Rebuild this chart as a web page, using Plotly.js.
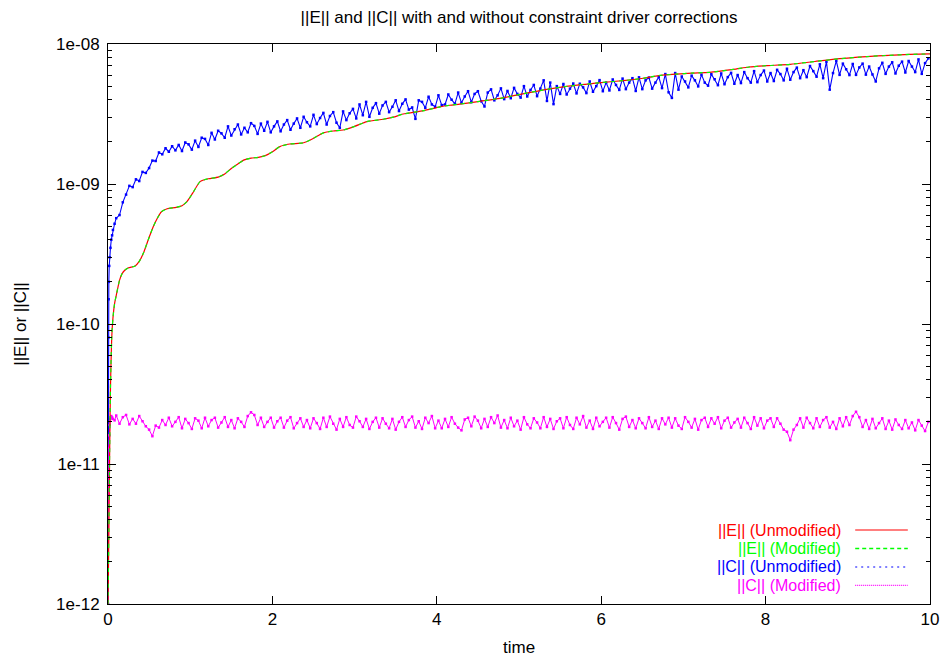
<!DOCTYPE html>
<html>
<head>
<meta charset="utf-8">
<script src="https://cdn.plot.ly/plotly-3.0.1.min.js"></script>
<style>html,body{margin:0;padding:0;background:#fff;}#chart{width:942px;height:657px;}</style>
</head>
<body>
<div id="chart"></div>
<script>
// ---- DATA ----
const seriesNames = ["||E|| (Unmodified)", "||E|| (Modified)", "||C|| (Unmodified)", "||C|| (Modified)"];

// ||E|| (identical for both runs), values in units of 1e-9
const eTime = [0, 0.01, 0.02, 0.03, 0.045, 0.06, 0.08, 0.106, 0.14, 0.17, 0.207, 0.25, 0.33, 0.38, 0.43, 0.49, 0.55, 0.60, 0.65, 0.72, 0.83, 0.90, 0.96, 1.03, 1.12, 1.22, 1.34, 1.42, 1.50, 1.58, 1.65, 1.74, 1.83, 1.92, 2.0, 2.09, 2.21, 2.38, 2.50, 2.62, 2.74, 2.86, 3.0, 3.15, 3.35, 3.47, 3.59, 3.84, 4.04, 4.16, 4.28, 4.50, 4.77, 5.0, 5.3, 5.6, 6.0, 6.3, 6.51, 6.7, 6.92, 7.1, 7.32, 7.61, 7.8, 8.01, 8.30, 8.6, 8.9, 9.23, 9.5, 9.75, 10];
const eValues = [0.001, 0.003, 0.012, 0.035, 0.079, 0.11, 0.14, 0.166, 0.205, 0.228, 0.243, 0.252, 0.26, 0.28, 0.32, 0.40, 0.495, 0.57, 0.634, 0.665, 0.68, 0.70, 0.748, 0.86, 1.04, 1.09, 1.12, 1.18, 1.29, 1.39, 1.48, 1.53, 1.55, 1.60, 1.70, 1.85, 1.93, 1.97, 2.12, 2.32, 2.39, 2.43, 2.58, 2.79, 2.90, 3.0, 3.16, 3.34, 3.56, 3.65, 3.72, 3.88, 4.09, 4.35, 4.70, 5.0, 5.3, 5.5, 5.69, 5.95, 6.1, 6.2, 6.28, 6.59, 6.85, 7.0, 7.16, 7.5, 7.85, 8.12, 8.3, 8.42, 8.5];

// Start of the ||C|| runs (time values)
const cStartTime = [0, 0.002, 0.004, 0.007, 0.01, 0.015, 0.02, 0.03, 0.04, 0.05, 0.06, 0.08];
// ||C|| unmodified start, units of 1e-9
const cUnmodStart = [0.001, 0.02, 0.08, 0.15, 0.2, 0.26, 0.3, 0.35, 0.4, 0.43, 0.47, 0.52];
// ||C|| modified start, units of 1e-11
const cModStart = [0.1, 0.3, 0.6, 1.0, 1.3, 1.6, 1.9, 2.1, 2.2, 2.15, 2.1, 2.05];

// Sampled part: from t = 0.10, every 0.04
const sampleStart = 0.10, sampleStep = 0.04;
// ||C|| unmodified, units of 1e-9
const cUnmod = [
 0.57,0.60,0.74,0.84,0.97,0.95,1.08,1.05,1.22,1.20,
 1.30,1.47,1.46,1.68,1.63,1.80,1.70,1.86,1.74,1.90,
 1.72,1.98,1.92,1.76,2.04,1.84,2.14,2.10,1.90,2.32,
 2.08,2.40,2.30,2.14,2.58,2.22,2.46,2.66,2.26,2.52,
 2.34,2.72,2.60,2.28,2.70,2.40,2.78,2.34,2.58,2.80,
 2.38,2.66,2.86,2.44,2.70,2.94,2.52,3.02,2.76,2.58,
 3.12,2.68,2.96,3.22,2.66,3.06,3.26,2.74,2.52,3.30,
 2.86,3.20,3.44,2.94,3.70,3.10,3.86,3.02,3.50,3.78,
 3.18,3.64,3.86,3.26,3.56,3.96,3.32,3.74,4.02,3.40,
 3.52,2.92,3.96,3.86,3.50,4.20,3.70,3.56,4.30,3.66,
 3.70,4.36,4.00,3.74,4.50,3.80,4.22,4.60,3.84,4.40,
 4.60,3.90,3.58,4.50,4.74,3.96,4.30,4.82,4.04,4.62,
 4.10,4.86,4.40,4.14,5.00,4.22,4.70,5.10,4.24,4.80,
 5.50,3.92,5.30,3.72,5.00,4.40,5.18,4.36,4.80,5.22,
 4.44,5.20,4.90,4.46,5.40,4.56,5.00,5.52,4.60,5.30,
 4.66,5.58,5.10,4.70,5.66,4.76,5.30,5.70,4.62,5.78,
 4.76,5.50,5.76,4.80,5.30,5.82,4.84,6.10,4.52,4.12,
 6.20,4.72,5.86,5.40,4.90,5.94,5.50,4.98,6.04,5.30,
 5.04,6.08,5.60,5.08,6.16,5.16,5.80,6.22,5.20,6.00,
 5.26,6.30,5.70,5.30,6.40,5.34,6.00,6.46,5.40,6.20,
 5.44,6.54,6.10,5.50,6.66,5.56,6.30,6.78,5.70,6.50,
 5.80,6.96,6.40,5.84,7.16,5.70,7.48,4.72,6.20,7.58,
 6.02,7.24,6.60,6.00,7.20,6.02,6.80,7.24,6.04,6.90,
 6.06,5.40,6.70,7.34,6.12,6.90,7.40,6.16,7.00,7.48,
 6.26,7.56,6.90,6.30,7.76,6.12,7.30,7.90
];
// ||C|| modified, units of 1e-11
const cMod = [
 2.22,1.94,2.16,2.24,1.92,2.10,1.94,2.20,2.02,1.86,
 1.76,1.58,1.88,1.82,2.06,1.90,2.14,1.86,2.00,2.16,
 1.80,2.10,1.96,1.78,2.12,2.04,1.80,2.14,1.86,2.06,
 2.14,1.82,1.98,2.16,1.84,2.06,1.80,2.12,2.00,1.84,
 2.20,2.34,2.24,1.90,2.14,1.84,2.00,2.14,1.82,2.02,
 2.14,1.82,2.04,2.16,1.80,1.96,2.12,1.84,2.06,1.80,
 2.12,1.96,1.78,2.14,1.84,2.18,1.94,1.76,2.10,1.84,
 2.16,1.90,1.82,2.18,2.02,1.84,2.10,1.78,2.00,2.14,
 1.82,2.12,1.94,1.80,2.10,1.76,2.00,2.16,1.84,2.06,
 2.18,1.82,2.02,1.78,2.14,1.96,2.20,1.80,2.04,1.80,
 2.10,1.84,2.16,1.94,1.82,1.74,2.08,2.14,1.86,2.18,
 2.04,1.80,2.10,1.84,2.16,1.96,2.22,1.82,2.06,1.80,
 2.14,1.86,2.04,1.76,2.16,1.92,1.80,2.12,1.98,1.80,
 2.16,1.84,2.10,1.78,2.02,2.12,1.80,2.16,1.90,1.78,
 2.14,1.92,2.20,1.82,2.04,1.78,2.14,1.86,2.00,2.14,
 1.82,2.16,1.96,1.76,2.10,2.18,1.84,2.06,1.80,2.12,
 1.96,1.80,2.16,1.84,2.04,1.78,2.12,1.92,2.14,1.82,
 2.12,1.88,1.78,2.16,2.00,1.82,2.10,1.76,2.06,2.14,
 1.84,2.12,1.94,2.16,1.80,2.04,2.14,1.82,1.98,2.10,
 1.82,2.14,1.96,1.78,2.16,1.88,2.12,1.80,2.04,2.12,
 1.84,2.12,1.94,1.76,1.70,1.48,1.76,1.90,2.12,1.82,
 2.14,1.96,1.80,2.12,1.84,2.06,2.16,1.82,2.00,1.78,
 2.12,1.86,2.16,1.90,2.20,2.36,2.16,1.84,2.06,1.78,
 2.10,1.80,1.96,2.12,1.78,2.04,1.76,2.08,1.90,1.78,
 2.06,1.80,1.98,1.74,2.06,1.88,1.72,2.00
];

const yTickVals = [1e-12, 1e-11, 1e-10, 1e-9, 1e-8];
const yTickText = ["1e-12", "1e-11", "1e-10", "1e-09", "1e-08"];
const xTickVals = [0, 2, 4, 6, 8, 10];

// ---- BUILD ----
const sampleTime = cUnmod.map((_, i) => +(sampleStart + i * sampleStep).toFixed(4));
const cTime = cStartTime.concat(sampleTime);
const cUnmodAll = cUnmodStart.concat(cUnmod).map(v => v * 1e-9);
const cModAll = cModStart.concat(cMod).map(v => v * 1e-11);
const eAll = eValues.map(v => v * 1e-9);

const colors = ["#ff0000", "#00ff00", "#0000ff", "#ff00ff"];

const traces = [
  {x: cTime, y: cUnmodAll, mode: "lines+markers", line: {color: colors[2], width: 1.1}, marker: {color: colors[2], size: 2.5, symbol: "square"}, name: seriesNames[2]},
  {x: cTime, y: cModAll, mode: "lines+markers", line: {color: colors[3], width: 1}, marker: {color: colors[3], size: 2.5, symbol: "square"}, name: seriesNames[3]},
  {x: eTime, y: eAll, mode: "lines", line: {color: colors[0], width: 1.2, shape: "spline", smoothing: 0.6}, name: seriesNames[0]},
  {x: eTime, y: eAll, mode: "lines", line: {color: colors[1], width: 1.2, dash: "4px,4px", shape: "spline", smoothing: 0.6}, name: seriesNames[1]}
];

const minorVals = [];
for (let n = -12; n < -8; n++) for (let k = 2; k <= 9; k++) minorVals.push(k * Math.pow(10, n));

const font = {family: "Liberation Sans, Arial, sans-serif", size: 17, color: "#000"};

// legend (gnuplot style: text right aligned, sample on the right)
const legY = [0.1321, 0.0991, 0.0661, 0.0331];
const legDash = ["solid", "4px,3px", "2px,4px", "1px,1px"];
const legWidth = [1.2, 1.5, 1.2, 1.2];
const annotations = seriesNames.map((s, i) => ({
  xref: "paper", yref: "paper", x: 0.893, y: legY[i], xanchor: "right", yanchor: "middle",
  text: s, showarrow: false, borderpad: 0, font: {family: font.family, size: 16, color: colors[i]}
}));
annotations.push({xref: "paper", yref: "paper", x: 0.5, y: -0.078, xanchor: "center", yanchor: "middle",
  text: "time", showarrow: false, borderpad: 0, font: font});
const shapes = seriesNames.map((s, i) => ({
  type: "line", xref: "paper", yref: "paper", x0: 0.909, x1: 0.973, y0: legY[i], y1: legY[i],
  line: {color: colors[i], width: legWidth[i], dash: legDash[i]}
}));

const layout = {
  width: 942, height: 657,
  margin: {l: 108, r: 12, t: 44, b: 53},
  paper_bgcolor: "#fff", plot_bgcolor: "#fff",
  font: font,
  showlegend: false,
  title: {text: "||E|| and ||C|| with and without constraint driver corrections", font: {family: font.family, size: 17, color: "#000"}, x: 0.5, xref: "paper", xanchor: "center", y: 0.974, yref: "container", yanchor: "middle"},
  xaxis: {
    range: [0, 10], tickvals: xTickVals, ticks: "inside", ticklen: 8, tickcolor: "#000", tickwidth: 1,
    showline: true, linecolor: "#000", linewidth: 1, mirror: "ticks", showgrid: false, zeroline: false,
    tickfont: font
  },
  yaxis: {
    type: "log", range: [-12, -8], tickvals: yTickVals, ticktext: yTickText, ticks: "inside", ticklen: 8,
    tickcolor: "#000", tickwidth: 1, showline: true, linecolor: "#000", linewidth: 1, mirror: "ticks",
    showgrid: false, zeroline: false, tickfont: font, ticklabelstandoff: 4,
    minor: {tickmode: "array", tickvals: minorVals, ticks: "inside", ticklen: 4, tickcolor: "#000", tickwidth: 1, showgrid: false},
    title: {text: "||E|| or ||C||", font: font, standoff: 25}
  },
  annotations: annotations,
  shapes: shapes
};

Plotly.newPlot("chart", traces, layout, {displayModeBar: false, staticPlot: true});
</script>
</body>
</html>
